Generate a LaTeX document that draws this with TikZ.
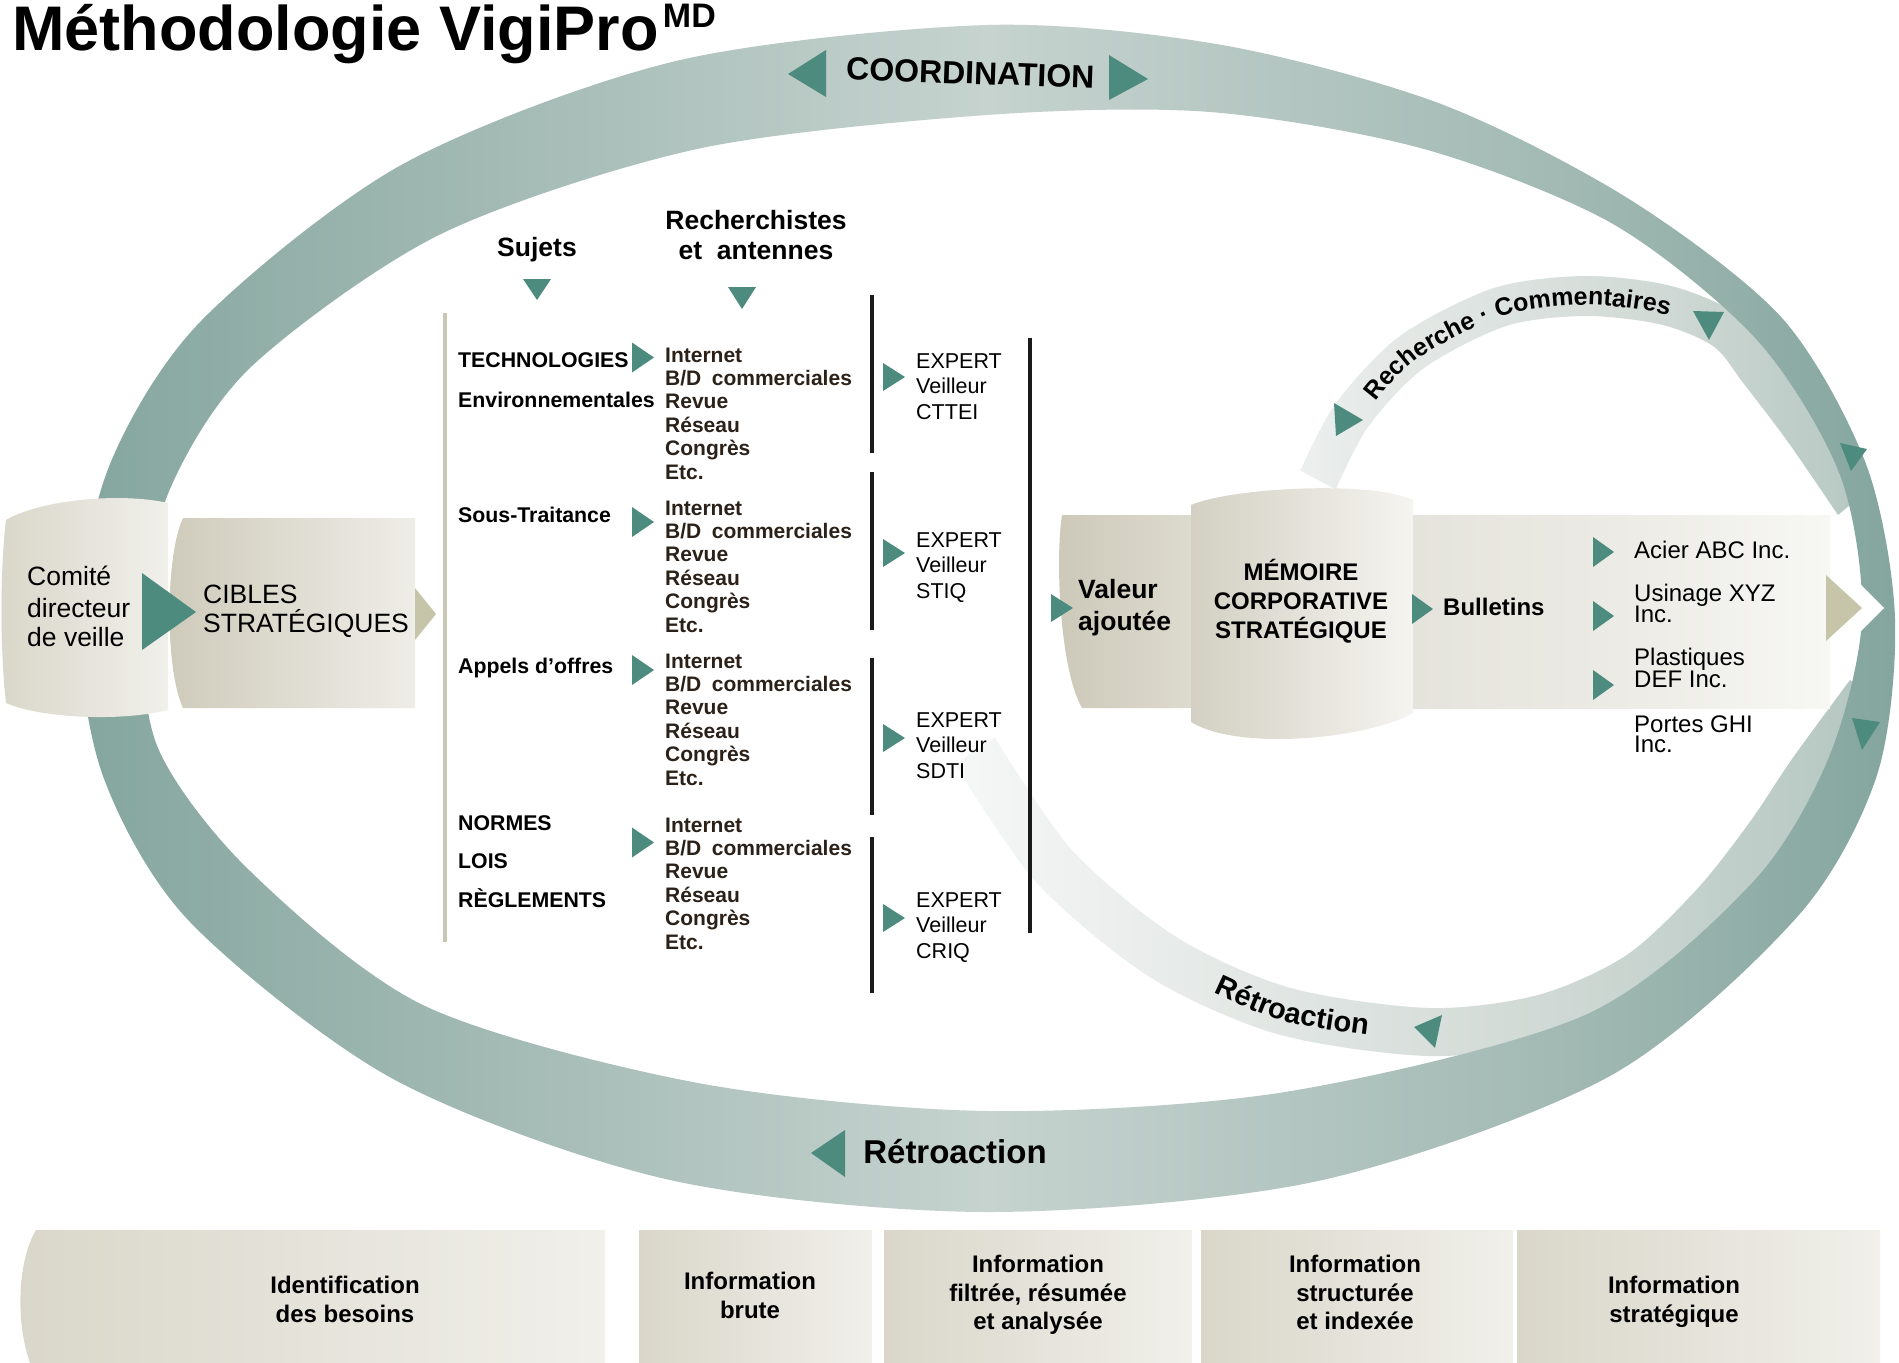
\documentclass[tikz,border=0pt]{standalone}
\usepackage{fontspec}
\setmainfont{Liberation Sans}
\usetikzlibrary{decorations.text}
\definecolor{tealA}{HTML}{4D8B7F}
\definecolor{ringD}{HTML}{6C978E}
\definecolor{ringM}{HTML}{A2B9B3}
\definecolor{ringL}{HTML}{C6D3CF}
\definecolor{bandA}{HTML}{E8ECEA}
\definecolor{bandB}{HTML}{D3DBD7}
\definecolor{bandC}{HTML}{AFC3BD}
\definecolor{bgD}{HTML}{CFCBBB}
\definecolor{bgM}{HTML}{DCD9CD}
\definecolor{bgL}{HTML}{EEEDE7}
\definecolor{khaki}{HTML}{C6C4A9}
\definecolor{khline}{HTML}{C9C7B4}
\definecolor{listc}{HTML}{2B2118}
\definecolor{bulA}{HTML}{DFDDD3}
\definecolor{bulB}{HTML}{EAE9E3}
\definecolor{bulC}{HTML}{F7F7F4}
\definecolor{memA}{HTML}{D3D0C3}
\definecolor{memB}{HTML}{F5F4F0}
\definecolor{valA}{HTML}{CDC9B9}
\definecolor{valB}{HTML}{DEDBD0}
\definecolor{blk}{HTML}{1A1A1A}
\pgfdeclarehorizontalshading{ringshade}{100bp}{color(0bp)=(ringD); color(16bp)=(ringD); color(36bp)=(ringM); color(50bp)=(ringL); color(66bp)=(ringM); color(82bp)=(ringD); color(100bp)=(ringD)}
\pgfdeclarehorizontalshading{recshade}{100bp}{color(0bp)=(white); color(14bp)=(white); color(28bp)=(bandA); color(55bp)=(bandB); color(80bp)=(bandC); color(100bp)=(ringD)}
\pgfdeclarehorizontalshading{retshade}{100bp}{color(0bp)=(white); color(18bp)=(white); color(36bp)=(bandA); color(55bp)=(bandB); color(78bp)=(bandC); color(100bp)=(ringD)}
\pgfdeclarehorizontalshading{boxshade}{100bp}{color(0bp)=(bgD); color(30bp)=(bgM); color(70bp)=(bgL); color(100bp)=(white)}
\pgfdeclarehorizontalshading{bulshade}{100bp}{color(0bp)=(bulA); color(45bp)=(bulB); color(75bp)=(bulC); color(90bp)=(white); color(100bp)=(white)}
\begin{document}
\begin{tikzpicture}[x=1pt,y=1pt,
  lst/.style={anchor=base west, inner sep=0pt, text=listc, font=\bfseries\fontsize{21}{21}\selectfont},
  subj/.style={anchor=base west, inner sep=0pt, font=\bfseries\fontsize{21.3}{21}\selectfont},
  expt/.style={anchor=base west, inner sep=0pt, font=\fontsize{21.5}{21}\selectfont},
  hdr/.style={anchor=base, inner sep=0pt, font=\bfseries\fontsize{26.5}{26}\selectfont},
  bigtxt/.style={anchor=base west, inner sep=0pt, font=\fontsize{26.5}{26}\selectfont},
  bigbold/.style={anchor=base west, inner sep=0pt, font=\bfseries\fontsize{26.5}{26}\selectfont},
  memtxt/.style={anchor=base, inner sep=0pt, font=\bfseries\fontsize{24}{24}\selectfont},
  comptxt/.style={anchor=base west, inner sep=0pt, font=\fontsize{24}{24}\selectfont},
  bottxt/.style={anchor=base, inner sep=0pt, font=\bfseries\fontsize{24}{24}\selectfont},
  ringtxt/.style={anchor=base, inner sep=0pt, font=\bfseries\fontsize{32}{32}\selectfont}]
\fill[white] (0,0) rectangle (1899,-1363);
\useasboundingbox (0,0) rectangle (1899,-1363);

% ---- inner bands (under the ring)
\shade[shading=recshade] plot[smooth] coordinates {(1300.3,-470.7) (1335.9,-403.2) (1400.2,-335.8) (1493.8,-288.0) (1584.8,-276) (1669.7,-285.6) (1736.5,-313.6) (1776.4,-360.5) (1818,-422) (1862,-495)}
  -- plot[smooth] coordinates {(1838,-515) (1788,-442) (1743.6,-383.5) (1713.5,-346.4) (1660.3,-324.4) (1585.2,-316) (1506.2,-326.0) (1423.8,-368.2) (1368.1,-426.8) (1335.7,-489.3)} -- cycle;
\shade[shading=retshade] plot[smooth] coordinates {(994.8,-737.4) (1071.7,-849.8) (1175.8,-936.7) (1290.5,-987.9) (1429.6,-1008) (1538.7,-994.8) (1626.7,-955) (1697.4,-888.7) (1750.4,-821.2) (1792,-759) (1850,-680)}
  -- plot[smooth] coordinates {(1884,-703) (1831.3,-781) (1789.6,-848.8) (1732.6,-921.3) (1653.3,-995) (1551.3,-1041.2) (1428.4,-1056) (1277.5,-1034.1) (1150.2,-977.3) (1036.3,-882.2) (955.2,-764.6)} -- cycle;

% ---- big ring
\shade[shading=ringshade, even odd rule]
  plot[smooth cycle] coordinates {(1895,-618) (1877,-775) (1798,-916) (1610,-1076) (1318,-1181) (987,-1212) (670,-1180) (395,-1080) (190,-922) (103,-776) (79,-618) (110,-464) (201,-321) (403,-164) (676,-61) (987,-25) (1222,-45) (1441,-104) (1629,-199) (1782,-318) (1866,-464)}
  plot[smooth cycle] coordinates {(1862,-618) (1829,-757) (1752,-883) (1585,-1015) (1285,-1092) (987,-1111) (698,-1083) (425,-1006) (250,-871) (158,-748) (143,-618) (170,-489) (252,-366) (441,-234) (697,-149) (987,-115) (1210,-112) (1424,-149) (1613,-224) (1757,-340) (1840,-475)};

% ring arrowheads
\fill[tealA] (788,-74) -- (826,-50) -- (826,-97) -- cycle;
\fill[tealA] (1109,-55) -- (1148,-79) -- (1109,-100) -- cycle;
\fill[tealA] (811,-1153) -- (845,-1130) -- (845,-1177) -- cycle;
\fill[tealA] (1840,-443) -- (1867,-449) -- (1851,-471) -- cycle;
\fill[tealA] (1852,-718) -- (1880,-722) -- (1862,-750) -- cycle;
% band arrowheads
\fill[tealA] (1334,-403) -- (1363,-420) -- (1336,-436) -- cycle;
\fill[tealA] (1693,-311) -- (1724,-312) -- (1709,-340) -- cycle;
\fill[tealA] (1414,-1027) -- (1442,-1015) -- (1435,-1048) -- cycle;

\node[ringtxt, rotate=-2] (coord) at (970,-84) {COORDINATION};
\node[ringtxt, font=\bfseries\fontsize{33}{33}\selectfont] (retro1) at (955,-1163) {Rétroaction};
\path[decorate, decoration={text along path, text={|\bfseries\fontsize{25}{25}\selectfont|Recherche · Commentaires}}]
  plot[smooth] coordinates {(1376,-402) (1417,-359) (1503,-316) (1585,-305) (1663,-314) (1720,-337) (1760,-380)};
\path[decorate, decoration={text along path, text align=center, text={|\bfseries\fontsize{29}{29}\selectfont|Rétroaction}}]
  plot[smooth] coordinates {(1158,-965.5) (1281,-1020.6) (1429,-1042)};

% ---- bottom strip
\shade[shading=boxshade] (36,-1230) -- (605,-1230) -- (605,-1363) -- (30,-1363) .. controls (15,-1320) and (18,-1260) .. (36,-1230) -- cycle;
\shade[shading=boxshade] (639,-1230) rectangle (872,-1363);
\shade[shading=boxshade] (884,-1230) rectangle (1192,-1363);
\shade[shading=boxshade] (1201,-1230) rectangle (1513,-1363);
\shade[shading=boxshade] (1517,-1230) rectangle (1880,-1363);
\node[bottxt] (b1a) at (345,-1293) {Identification};
\node[bottxt] (b1b) at (345,-1322) {des besoins};
\node[bottxt] (b2a) at (750,-1289) {Information};
\node[bottxt] (b2b) at (750,-1318) {brute};
\node[bottxt] (b3a) at (1038,-1272) {Information};
\node[bottxt] (b3b) at (1038,-1301) {filtrée, résumée};
\node[bottxt] (b3c) at (1038,-1329) {et analysée};
\node[bottxt] (b4a) at (1355,-1272) {Information};
\node[bottxt] (b4b) at (1355,-1301) {structurée};
\node[bottxt] (b4c) at (1355,-1329) {et indexée};
\node[bottxt] (b5a) at (1674,-1293) {Information};
\node[bottxt] (b5b) at (1674,-1322) {stratégique};

% ---- left boxes
\shade[shading=boxshade] (6,-520) .. controls (40,-500) and (120,-492) .. (168,-503) -- (168,-710) .. controls (120,-722) and (40,-718) .. (6,-703) .. controls (0,-650) and (0,-570) .. (6,-520) -- cycle;
\shade[left color=bgD, right color=bgL] (183,-518) -- (415,-518) -- (415,-708) -- (183,-708) .. controls (165,-670) and (165,-556) .. (183,-518) -- cycle;
\fill[tealA] (142,-573) -- (196,-612) -- (142,-650) -- cycle;
\fill[khaki] (415,-588) -- (436,-614) -- (415,-640) -- cycle;
\node[bigtxt] (c1) at (27,-585) {Comité};
\node[bigtxt] (c2) at (27,-617) {directeur};
\node[bigtxt] (c3) at (27,-646) {de veille};
\node[bigtxt] (cib1) at (203,-603) {CIBLES};
\node[bigtxt] (cib2) at (203,-632) {STRATÉGIQUES};

% ---- middle column
\draw[line width=4pt, khline] (445,-313) -- (445,-942);
\node[hdr] (hs) at (537,-256) {Sujets};
\node[hdr] (hr1) at (756,-229) {Recherchistes};
\node[hdr] (hr2) at (756,-259) {et\ \ antennes};
\fill[tealA] (523,-279) -- (551,-279) -- (537,-300) -- cycle;
\fill[tealA] (728,-287) -- (756,-287) -- (742,-309) -- cycle;
\node[subj] (s1) at (458,-367) {TECHNOLOGIES};
\node[subj] (s2) at (458,-407) {Environnementales};
\node[subj] (s3) at (458,-522) {Sous-Traitance};
\node[subj] (s4) at (458,-673) {Appels d’offres};
\node[subj] (s5) at (458,-830) {NORMES};
\node[subj] (s6) at (458,-868) {LOIS};
\node[subj] (s7) at (458,-907) {RÈGLEMENTS};
\foreach \yc in {357.5,522,670,842.5} {\fill[tealA] (632,{-\yc+15}) -- (654,{-\yc}) -- (632,{-\yc-15}) -- cycle;}
\foreach \g/\yb in {1/362,2/515,3/668,4/832}{
  \foreach \w [count=\i from 0] in {Internet,{B/D\hspace{0.5em}commerciales},Revue,Réseau,Congrès,Etc.}{
    \node[lst] (l\g-\i) at (665,{-(\yb+23.4*\i)}) {\w};
  }
}
\draw[line width=3.5pt, blk] (872,-295) -- (872,-453);
\draw[line width=3.5pt, blk] (872,-472) -- (872,-630);
\draw[line width=3.5pt, blk] (872,-658) -- (872,-815);
\draw[line width=3.5pt, blk] (872,-837) -- (872,-993);
\draw[line width=3.5pt, blk] (1030,-338) -- (1030,-933);
\foreach \yc in {377,553,738,918} {\fill[tealA] (883,{-\yc+14}) -- (905,{-\yc}) -- (883,{-\yc-14}) -- cycle;}
\foreach \g/\yb/\org in {1/368/CTTEI,2/547/STIQ,3/727/SDTI,4/907/CRIQ}{
  \node[expt] (e\g-a) at (916,-\yb) {EXPERT};
  \node[expt] (e\g-b) at (916,{-(\yb+25.5)}) {Veilleur};
  \node[expt] (e\g-c) at (916,{-(\yb+51)}) {\org};
}

% ---- right boxes
\shade[shading=bulshade] (1413,-515) rectangle (1830,-708);
\shade[left color=valA, right color=valB] (1062,-515) -- (1200,-515) -- (1200,-708) -- (1082,-708) .. controls (1060,-670) and (1055,-560) .. (1062,-515) -- cycle;
\shade[left color=memA, right color=memB] (1191,-505) .. controls (1230,-488) and (1370,-480) .. (1413,-500) -- (1413,-713) .. controls (1370,-738) and (1240,-752) .. (1191,-722) -- cycle;
\fill[tealA] (1051,-594) -- (1073,-608) -- (1051,-622) -- cycle;
\fill[tealA] (1412,-594) -- (1433,-609) -- (1412,-624) -- cycle;
\foreach \yc in {552,616,685} {\fill[tealA] (1593,{-\yc+15}) -- (1614,{-\yc}) -- (1593,{-\yc-15}) -- cycle;}
\fill[white] (1848,-572) -- (1884,-608) -- (1848,-644) -- cycle;
\fill[khaki] (1826,-575) -- (1862,-608) -- (1826,-641) -- cycle;
\node[bigbold] (v1) at (1078,-598) {Valeur};
\node[bigbold] (v2) at (1078,-630) {ajoutée};
\node[memtxt] (m1) at (1301,-580) {MÉMOIRE};
\node[memtxt] (m2) at (1301,-609) {CORPORATIVE};
\node[memtxt] (m3) at (1301,-638) {STRATÉGIQUE};
\node[anchor=base west, inner sep=0pt, font=\bfseries\fontsize{24}{24}\selectfont] (bul) at (1443,-615) {Bulletins};
\node[comptxt] (k1) at (1634,-558) {Acier ABC Inc.};
\node[comptxt] (k2) at (1634,-601) {Usinage XYZ};
\node[comptxt] (k2b) at (1634,-622) {Inc.};
\node[comptxt] (k3) at (1634,-665) {Plastiques};
\node[comptxt] (k3b) at (1634,-687) {DEF Inc.};
\node[comptxt] (k4) at (1634,-732) {Portes GHI};
\node[comptxt] (k4b) at (1634,-752) {Inc.};

% ---- title
\node[anchor=base west, inner sep=0pt, font=\bfseries\fontsize{63}{63}\selectfont] (title) at (12,-50) {Méthodologie VigiPro};
\node[anchor=base west, inner sep=0pt, font=\bfseries\fontsize{34}{34}\selectfont] (md) at ([xshift=4pt,yshift=23pt]title.base east) {MD};
\end{tikzpicture}
\end{document}
